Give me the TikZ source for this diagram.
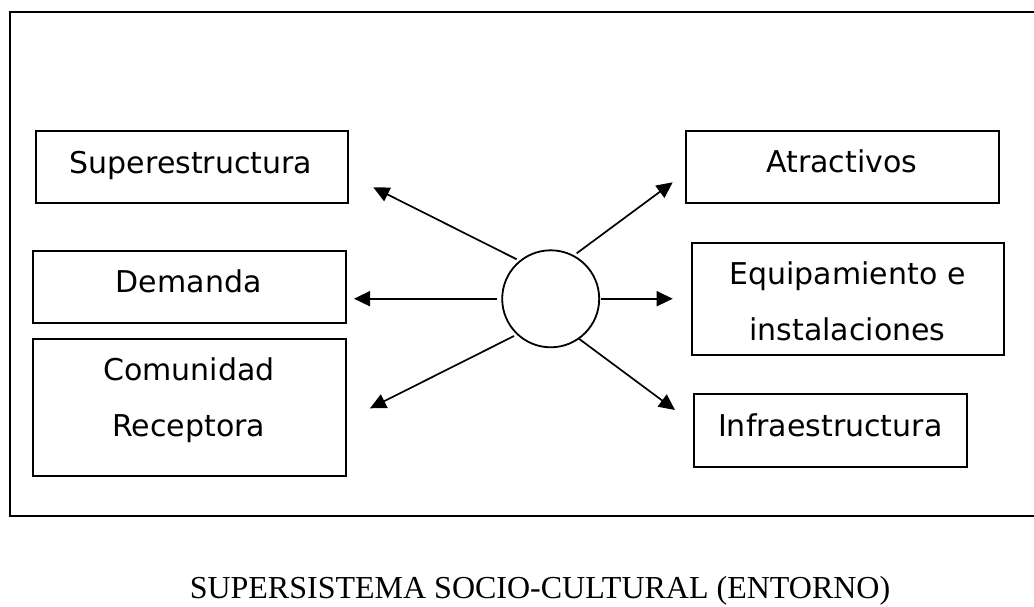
\documentclass[tikz,border=0pt]{standalone}
\usepackage{fontspec}
\setmainfont{DejaVu Sans}
\newfontfamily\titlefont{Liberation Serif}
\usetikzlibrary{arrows.meta}
\begin{document}
\begin{tikzpicture}[x=1pt,y=-1pt,
  boxnode/.style={draw, line width=1.8pt, rectangle, inner sep=0pt},
  lbl/.style={anchor=base, inner sep=0pt, align=center, font=\fontsize{30}{56}\selectfont},
  arr/.style={line width=1.7pt, -{Triangle[length=16pt,width=15pt]}}]
\useasboundingbox (0,0) rectangle (1034,606);
\begin{scope}
\clip (0,0) rectangle (1034,606);
\node[draw, line width=2pt, inner sep=0pt, minimum width=1040pt, minimum height=503.7pt, anchor=north west] (frame) at (9,11) {};
\end{scope}
% boxes
\node[boxnode, minimum width=312.3pt, minimum height=72.3pt] (sup) at (191.9,166.9) {};
\node[boxnode, minimum width=313pt, minimum height=72pt] (dem) at (189.2,287) {};
\node[boxnode, minimum width=313pt, minimum height=137pt] (com) at (189.2,407.2) {};
\node[boxnode, minimum width=313pt, minimum height=72.3pt] (atr) at (842.5,166.9) {};
\node[boxnode, minimum width=312.3pt, minimum height=112pt] (equ) at (847.9,299) {};
\node[boxnode, minimum width=273pt, minimum height=73pt] (inf) at (830.5,430.5) {};
% labels
\node[lbl] (supT) at (191,173.3) {Superestructura};
\node[lbl] (demT) at (188.7,292.3) {Demanda};
\node[lbl] (comT) at (188.8,436.7) {Comunidad\\Receptora};
\node[lbl] (atrT) at (841.8,172.3) {Atractivos};
\node[lbl] (equT) at (847.5,340) {Equipamiento e\\instalaciones};
\node[lbl] (infT) at (830.3,436.7) {Infraestructura};
% circle
\node[draw, circle, line width=1.8pt, minimum size=97pt, inner sep=0pt] (c) at (550.7,298.8) {};
% arrow ends
\coordinate (sUL) at (516.7,259.3); \coordinate (tUL) at (373.3,187.3);
\coordinate (sL) at (497.3,298.7);  \coordinate (tL) at (354,298.7);
\coordinate (sLL) at (514,336);     \coordinate (tLL) at (370,408.3);
\coordinate (sUR) at (576.7,253.3); \coordinate (tUR) at (672.7,182.3);
\coordinate (sR) at (600.7,298.7);  \coordinate (tR) at (672.7,298.7);
\coordinate (sLR) at (579.3,339);   \coordinate (tLR) at (675,410);
\draw[arr] (sUL) -- (tUL);
\draw[arr] (sL) -- (tL);
\draw[arr] (sLL) -- (tLL);
\draw[arr] (sUR) -- (tUR);
\draw[arr] (sR) -- (tR);
\draw[arr] (sLR) -- (tLR);
% title
\node[anchor=base, inner sep=0pt, font=\titlefont\fontsize{32}{38}\selectfont] (title) at (540,598.5) {SUPERSISTEMA SOCIO-CULTURAL (ENTORNO)};
\end{tikzpicture}
\end{document}
